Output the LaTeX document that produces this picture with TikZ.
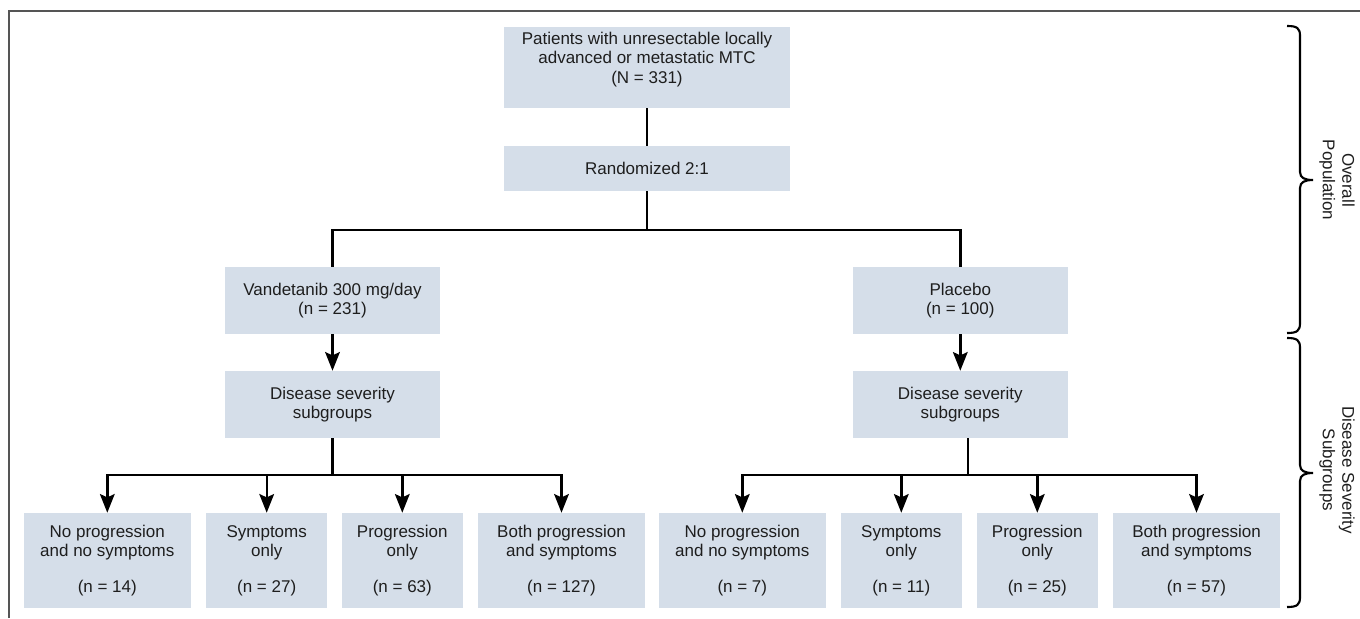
\documentclass[tikz,border=0pt]{standalone}
\usepackage{fontspec}
\setmainfont{Liberation Sans}
\usetikzlibrary{arrows.meta}
\definecolor{boxfill}{RGB}{213,222,233}
\definecolor{framegray}{RGB}{85,85,85}
\definecolor{txt}{RGB}{30,30,30}
\begin{document}
\begin{tikzpicture}[x=0.75pt,y=-0.75pt,
  box/.style={fill=boxfill, draw=none, align=center, inner sep=0pt, text=txt,
    font=\fontsize{12.75}{14.6}\selectfont},
  plaintext/.style={align=center, inner sep=0pt, text=txt, font=\fontsize{12.75}{14.6}\selectfont},
  widebox/.style={box, minimum width=125.25pt, minimum height=71.25pt},
  narrowbox/.style={box, minimum width=90.4pt, minimum height=71.25pt},
  armbox/.style={box, minimum width=161.25pt, minimum height=50.25pt},
  conn/.style={line width=1.8pt, black},
  arr/.style={conn, -{Stealth[length=14pt,width=11pt,inset=2.5pt]}},
  sidelabel/.style={rotate=-90, align=center, text=txt, font=\fontsize{12.75}{14.6}\selectfont},
  bracestyle/.style={line width=1.6pt, black}]
\useasboundingbox (0,0) rectangle (1360,618);

% frame
\draw[framegray, line width=1.5pt] (9,618) -- (9,11) -- (1360,11);

% top part
\node[box, minimum width=214.5pt, minimum height=60.75pt] (top) at (647,67.5) {};
\node[plaintext] (toptext) at (647,59.5)
  {Patients with unresectable locally\\advanced or metastatic MTC\\(N = 331)};
\node[box, minimum width=214.5pt, minimum height=33.75pt] (rand) at (647,168.5) {Randomized 2:1};
\node[armbox] (vand) at (332.5,300.5) {Vandetanib 300 mg/day\\(n = 231)};
\node[armbox] (plac) at (960.3,300.5) {Placebo\\(n = 100)};
\node[armbox] (disL) at (332.5,404.5) {Disease severity\\subgroups};
\node[armbox] (disR) at (960.3,404.5) {Disease severity\\subgroups};

% bottom boxes
\node[widebox]   (b1) at (107.3,560.5) {No progression\\and no symptoms\\[12pt](n = 14)};
\node[narrowbox] (b2) at (266.7,560.5) {Symptoms\\only\\[12pt](n = 27)};
\node[narrowbox] (b3) at (402.3,560.5) {Progression\\only\\[12pt](n = 63)};
\node[widebox]   (b4) at (561.5,560.5) {Both progression\\and symptoms\\[12pt](n = 127)};
\node[widebox]   (b5) at (742.3,560.5) {No progression\\and no symptoms\\[12pt](n = 7)};
\node[narrowbox] (b6) at (901.3,560.5) {Symptoms\\only\\[12pt](n = 11)};
\node[narrowbox] (b7) at (1037.3,560.5) {Progression\\only\\[12pt](n = 25)};
\node[widebox]   (b8) at (1196.5,560.5) {Both progression\\and symptoms\\[12pt](n = 57)};

% connectors
\coordinate (split) at (647,230);
\coordinate (jl) at (332.5,475);
\coordinate (jr) at (967.7,475);
\draw[conn] (top.south) -- (rand.north);
\draw[conn] (rand.south) -- (split);
\draw[conn] (vand.north) -- (vand.north |- split) -- (plac.north |- split) -- (plac.north);
\draw[arr] (vand.south) -- (disL.north);
\draw[arr] (plac.south) -- (disR.north);
\draw[conn] (disL.south) -- (jl);
\draw[conn] (disR.south -| jr) -- (jr);
\draw[arr] (jl) -| (b1.north);
\draw[arr] (jl) -| (b4.north);
\draw[arr] (b2.north |- jl) -- (b2.north);
\draw[arr] (b3.north |- jl) -- (b3.north);
\draw[arr] (jr) -| (b5.north);
\draw[arr] (jr) -| (b8.north);
\draw[arr] (b6.north |- jl) -- (b6.north);
\draw[arr] (b7.north |- jl) -- (b7.north);

% braces
\draw[bracestyle] (1287,26) .. controls (1297,26) and (1300,28) .. (1300,36)
  -- (1300,172) .. controls (1300,178) and (1305,180) .. (1313,180)
  .. controls (1305,180) and (1300,182) .. (1300,188)
  -- (1300,323) .. controls (1300,331) and (1297,333) .. (1287,333);
\draw[bracestyle] (1287,338) .. controls (1297,338) and (1300,340) .. (1300,348)
  -- (1300,465) .. controls (1300,471) and (1305,473) .. (1313,473)
  .. controls (1305,473) and (1300,475) .. (1300,481)
  -- (1300,597) .. controls (1300,605) and (1297,607) .. (1287,607);
\node[sidelabel] (lab1) at (1337,180) {Overall\\Population};
\node[sidelabel] (lab2) at (1337,470) {Disease Severity\\Subgroups};
\end{tikzpicture}
\end{document}
